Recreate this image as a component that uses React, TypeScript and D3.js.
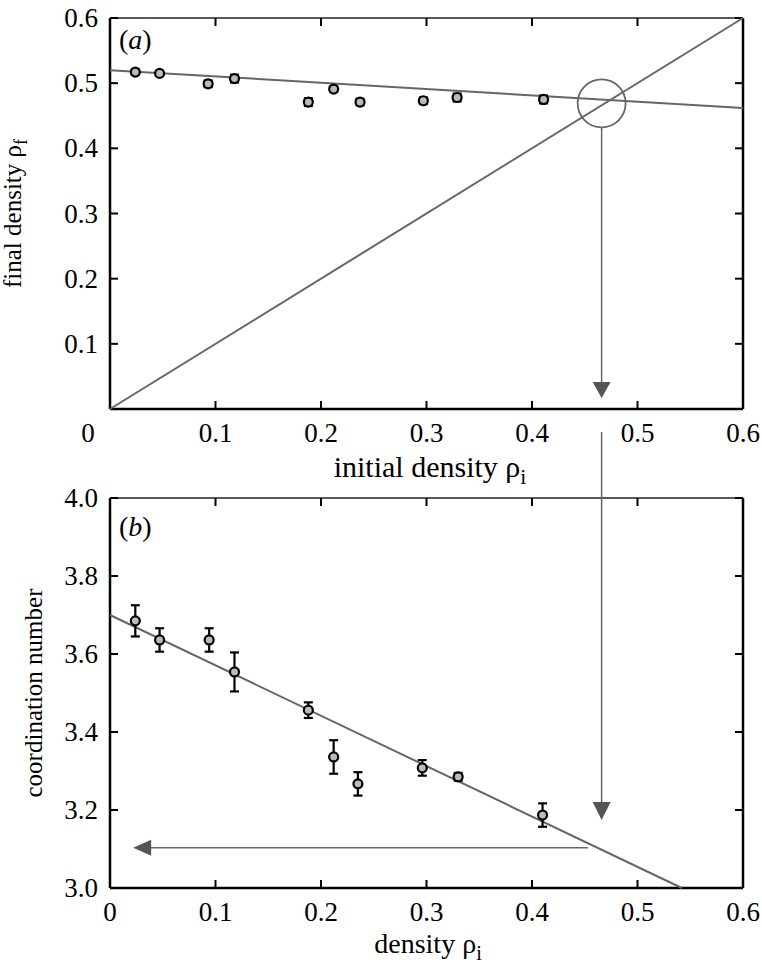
import React from 'react';
import * as d3 from 'd3';

// panel (a): final vs initial density
const initialDensity = [0.024, 0.047, 0.093, 0.118, 0.188, 0.212, 0.237, 0.297, 0.329, 0.411];
const finalDensity = [0.517, 0.515, 0.499, 0.507, 0.471, 0.491, 0.471, 0.473, 0.478, 0.475];
const finalDensityErr = [0.004, 0.004, 0.005, 0.006, 0.006, 0.004, 0.005, 0.005, 0.006, 0.006];
const fitA = [[0, 0.52], [0.6, 0.462]];
const identityLine = [[0, 0], [0.6, 0.6]];

// panel (b): coordination number vs density
const density = [0.024, 0.047, 0.094, 0.118, 0.188, 0.212, 0.235, 0.296, 0.33, 0.41];
const coordination = [3.685, 3.636, 3.636, 3.554, 3.456, 3.336, 3.267, 3.308, 3.285, 3.187];
const coordinationErr = [0.04, 0.03, 0.03, 0.05, 0.02, 0.043, 0.03, 0.02, 0.01, 0.03];
const fitB = [[0, 3.7], [0.542, 3.0]];

const xTicks = [0, 0.1, 0.2, 0.3, 0.4, 0.5, 0.6];
const yTicksA = [0.1, 0.2, 0.3, 0.4, 0.5, 0.6];
const yTicksB = [3.0, 3.2, 3.4, 3.6, 3.8, 4.0];
const crossing = { x: 0.466, y: 0.469 };
const readoutY = 3.103;

const FONT = '"Liberation Serif", "Times New Roman", Times, serif';
const GRAY = '#666';
const TICK_FS = 27;

const left = 110;
const right = 743;
const x = d3.scaleLinear().domain([0, 0.6]).range([left, right]);
const yA = d3.scaleLinear().domain([0, 0.6]).range([409, 18]);
const yB = d3.scaleLinear().domain([3.0, 4.0]).range([888, 498]);

const lineA = d3.line<number[]>().x((d) => x(d[0])).y((d) => yA(d[1]));
const lineB = d3.line<number[]>().x((d) => x(d[0])).y((d) => yB(d[1]));

const Frame = ({ y, top, bottom, yTicks, zeroDx }) => (
    <g>
        <line x1={left} x2={right} y1={top} y2={top} stroke="#222" strokeWidth={1.5} />
        <line x1={left} x2={right} y1={bottom} y2={bottom} stroke="black" strokeWidth={2.5} />
        <line x1={left} x2={left} y1={top} y2={bottom} stroke="black" strokeWidth={2.5} />
        <line x1={right} x2={right} y1={top} y2={bottom} stroke="black" strokeWidth={2.5} />
        {xTicks.slice(1, -1).map((t) => (
            <g key={t}>
                <line x1={x(t)} x2={x(t)} y1={bottom} y2={bottom - 8} stroke="black" strokeWidth={2} />
                <line x1={x(t)} x2={x(t)} y1={top} y2={top + 8} stroke="black" strokeWidth={2} />
            </g>
        ))}
        {xTicks.map((t) => (
            <text key={t} x={x(t) + (t === 0 ? zeroDx : 0)} y={bottom + 33} textAnchor="middle" fontSize={TICK_FS} fontFamily={FONT}>
                {t === 0 ? '0' : t.toFixed(1)}
            </text>
        ))}
        {yTicks.map((t) => (
            <g key={t}>
                <line x1={left} x2={left + 8} y1={y(t)} y2={y(t)} stroke="black" strokeWidth={2} />
                <line x1={right} x2={right - 8} y1={y(t)} y2={y(t)} stroke="black" strokeWidth={2} />
                <text x={98} y={y(t) + 9} textAnchor="end" fontSize={TICK_FS} fontFamily={FONT}>
                    {t.toFixed(1)}
                </text>
            </g>
        ))}
    </g>
);

const Points = ({ xs, ys, errs, y }) => (
    <g>
        {xs.map((d, i) => (
            <g key={i}>
                <line x1={x(d)} x2={x(d)} y1={y(ys[i] + errs[i])} y2={y(ys[i] - errs[i])} stroke="black" strokeWidth={2.2} />
                <line x1={x(d) - 4.5} x2={x(d) + 4.5} y1={y(ys[i] + errs[i])} y2={y(ys[i] + errs[i])} stroke="black" strokeWidth={2.2} />
                <line x1={x(d) - 4.5} x2={x(d) + 4.5} y1={y(ys[i] - errs[i])} y2={y(ys[i] - errs[i])} stroke="black" strokeWidth={2.2} />
                <circle cx={x(d)} cy={y(ys[i])} r={4.5} fill="#bbb" stroke="black" strokeWidth={2.2} />
            </g>
        ))}
    </g>
);

const Sub = ({ main, sub, fs }) => (
    <>
        {main}
        <tspan fontSize={fs * 0.72} dy={fs * 0.24}>{sub}</tspan>
    </>
);

export default function App() {
    const ax = x(crossing.x);
    return (
        <svg width={762} height={969} style={{ position: 'absolute', left: 0, top: 0, background: 'white' }}>
            {/* panel a */}
            <Frame y={yA} top={18} bottom={409} yTicks={yTicksA} zeroDx={-22} />
            <path d={lineA(identityLine)} fill="none" stroke={GRAY} strokeWidth={2} />
            <path d={lineA(fitA)} fill="none" stroke={GRAY} strokeWidth={2} />
            <Points xs={initialDensity} ys={finalDensity} errs={finalDensityErr} y={yA} />
            <circle cx={ax} cy={yA(crossing.y)} r={24} fill="none" stroke={GRAY} strokeWidth={1.8} />
            <line x1={ax} x2={ax} y1={yA(crossing.y) + 24} y2={385} stroke={GRAY} strokeWidth={1.5} />
            <path d={`M${ax - 9},382 L${ax + 9},382 L${ax},398 Z`} fill="#555" />
            <text x={119} y={49} fontSize={28} fontFamily={FONT}>
                (<tspan fontStyle="italic">a</tspan>)
            </text>
            <text x={430} y={477} textAnchor="middle" fontSize={30} fontFamily={FONT}>
                initial density <Sub main="ρ" sub="i" fs={30} />
            </text>
            <text transform={`translate(21, ${(18 + 409) / 2}) rotate(-90)`} textAnchor="middle" fontSize={25} fontFamily={FONT}>
                final density <Sub main="ρ" sub="f" fs={25} />
            </text>

            {/* panel b */}
            <Frame y={yB} top={498} bottom={888} yTicks={yTicksB} zeroDx={0} />
            <path d={lineB(fitB)} fill="none" stroke={GRAY} strokeWidth={2} />
            <Points xs={density} ys={coordination} errs={coordinationErr} y={yB} />
            <line x1={ax} x2={ax} y1={432} y2={805} stroke={GRAY} strokeWidth={1.5} />
            <path d={`M${ax - 9},802 L${ax + 9},802 L${ax},820 Z`} fill="#555" />
            <line x1={x(0.453)} x2={x(0.03)} y1={yB(readoutY)} y2={yB(readoutY)} stroke={GRAY} strokeWidth={1.5} />
            <path d={`M${x(0.022) + 18},${yB(readoutY) - 8} L${x(0.022) + 18},${yB(readoutY) + 8} L${x(0.022)},${yB(readoutY)} Z`} fill="#555" />
            <text x={119} y={536} fontSize={28} fontFamily={FONT}>
                (<tspan fontStyle="italic">b</tspan>)
            </text>
            <text x={428} y={953} textAnchor="middle" fontSize={28} fontFamily={FONT}>
                density <Sub main="ρ" sub="i" fs={28} />
            </text>
            <text transform={`translate(42, ${(498 + 888) / 2}) rotate(-90)`} textAnchor="middle" fontSize={25} fontFamily={FONT}>
                coordination number
            </text>
        </svg>
    );
}
